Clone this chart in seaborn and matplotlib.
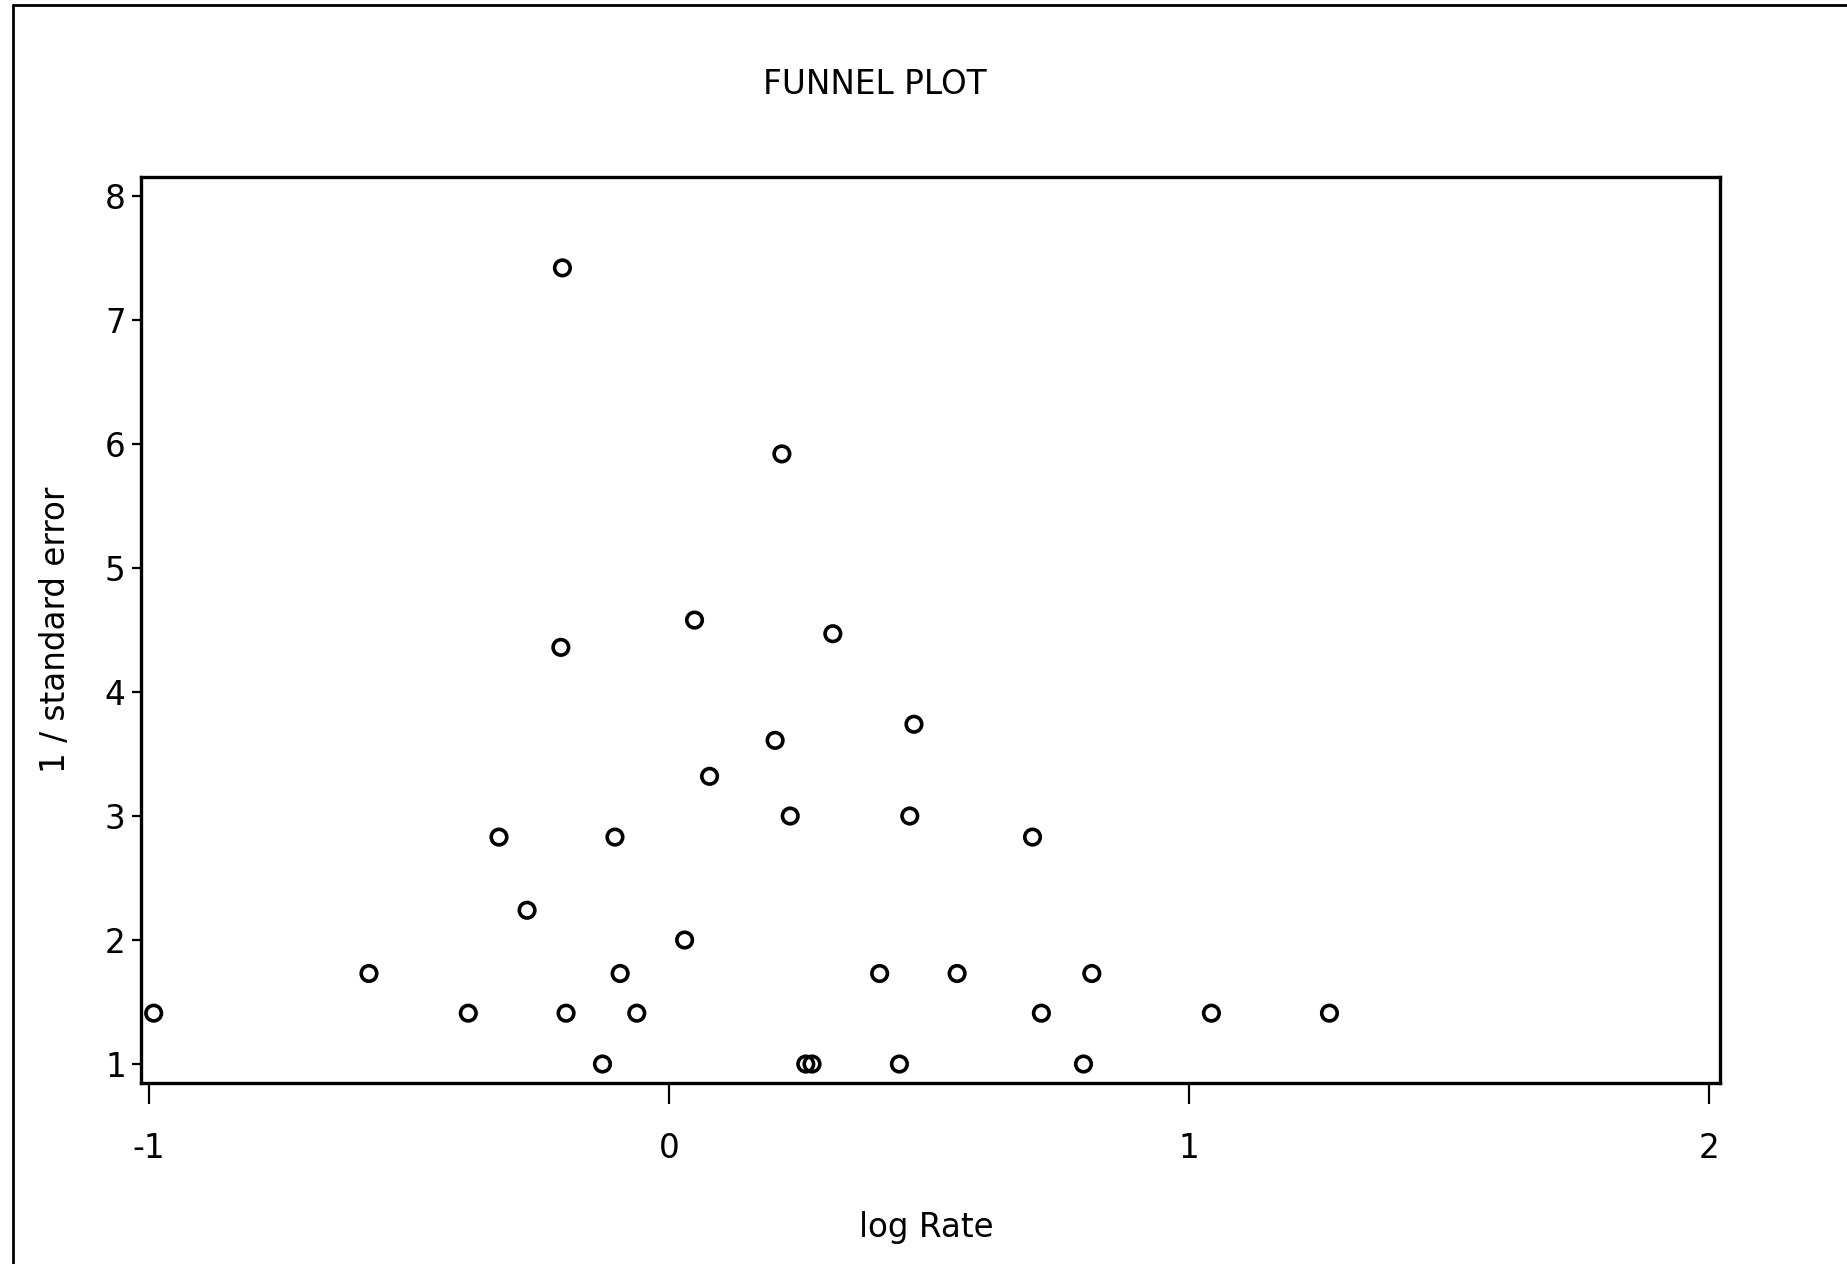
import matplotlib
matplotlib.use("Agg")
import matplotlib.pyplot as plt
from matplotlib.lines import Line2D
import seaborn as sns
import pandas as pd

# Study estimates: log rate and precision (1 / standard error)
log_rate = [
    -0.205, 0.217, 0.049, 0.315, -0.208, 0.471, 0.204, 0.078,
    0.233, 0.463, -0.327, -0.104, 0.699, -0.273, 0.030,
    -0.577, -0.094, 0.405, 0.554, 0.813,
    -0.991, -0.386, -0.198, -0.062, 0.716, 1.043, 1.270,
    -0.128, 0.263, 0.275, 0.443, 0.797,
]
inv_se = [
    7.42, 5.92, 4.58, 4.47, 4.36, 3.74, 3.61, 3.32,
    3.00, 3.00, 2.83, 2.83, 2.83, 2.24, 2.00,
    1.73, 1.73, 1.73, 1.73, 1.73,
    1.41, 1.41, 1.41, 1.41, 1.41, 1.41, 1.41,
    1.00, 1.00, 1.00, 1.00, 1.00,
]

x_ticks = [-1, 0, 1, 2]
y_ticks = [1, 2, 3, 4, 5, 6, 7, 8]

title_text = "FUNNEL PLOT"
x_label = "log Rate"
y_label = "1 / standard error"

sns.set_theme(style="ticks")
plt.rcParams["font.family"] = ["DejaVu Sans"]
plt.rcParams["axes.unicode_minus"] = False

W, H = 1847, 1264
fig = plt.figure(figsize=(W / 100, H / 100), dpi=100)
fig.patch.set_facecolor("white")

left, right, top, bottom = 141, 1720, 177, 1083
ax = fig.add_axes([left / W, 1 - bottom / H, (right - left) / W, (bottom - top) / H])
ax.set_facecolor("white")

df = pd.DataFrame({"log Rate": log_rate, "inv_se": inv_se})
sns.scatterplot(
    data=df, x="log Rate", y="inv_se", ax=ax,
    marker="o", s=125, color="black", facecolor="none",
    edgecolor="black", linewidth=2.6,
)
ax.collections[0].set_facecolor("none")

ax.set_xlim(-1.0154, 2.021)
ax.set_ylim(0.847, 8.153)
ax.set_xticks(x_ticks)
ax.set_yticks(y_ticks)
ax.set_xticklabels([str(t) for t in x_ticks])
ax.set_yticklabels([str(t) for t in y_ticks])
ax.set_xlabel("")
ax.set_ylabel("")
ax.grid(False)

for sp in ax.spines.values():
    sp.set_visible(True)
    sp.set_color("black")
    sp.set_linewidth(2.4)

ax.tick_params(axis="x", direction="out", length=15, width=1.6, pad=20,
               labelsize=23.5, color="black", labelcolor="black")
ax.tick_params(axis="y", direction="out", length=6.5, width=1.6, pad=4.5,
               labelsize=23.5, color="black", labelcolor="black")

# Titles and axis labels
fig.text(875 / W, 1 - 84 / H, title_text, ha="center", va="center",
         fontsize=23.5, color="black")
fig.text(926 / W, 1 - 1228 / H, x_label, ha="center", va="center",
         fontsize=23.5, color="black")
fig.text(55 / W, 1 - 630 / H, y_label, ha="center", va="center",
         rotation=90, fontsize=23.5, color="black")

# Page frame around the graphic
fig.add_artist(Line2D([13 / W, 13 / W], [0, 1 - 5 / H], transform=fig.transFigure,
                      color="black", linewidth=2.0))
fig.add_artist(Line2D([13 / W, 1], [1 - 5 / H, 1 - 5 / H], transform=fig.transFigure,
                      color="black", linewidth=2.0))

fig.savefig("out.png", dpi=100, facecolor="white")
